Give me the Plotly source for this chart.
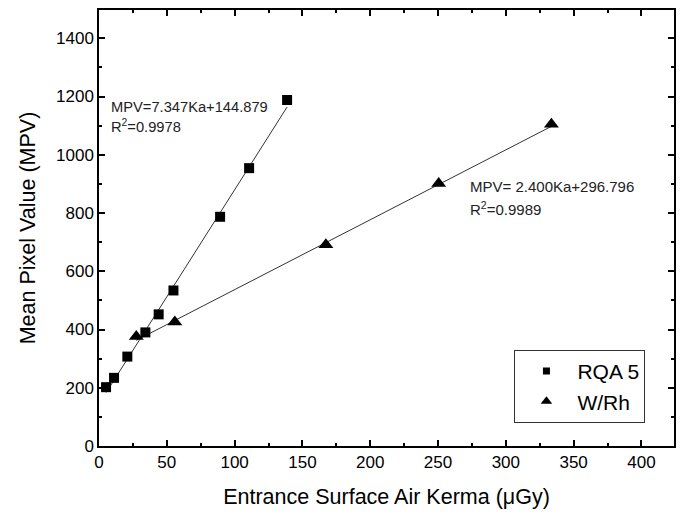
import plotly.graph_objects as go

# RQA 5 data
rqa_x = [5.2, 11.1, 20.9, 34.2, 44.0, 54.9, 89.3, 110.7, 138.7]
rqa_y = [202, 234, 307, 390, 452, 534, 787, 954, 1188]
rqa_slope, rqa_icpt = 7.347, 144.879

# W/Rh data
wrh_x = [27.5, 55.9, 167.3, 250.5, 333.6]
wrh_y = [376, 426, 691, 901, 1105]
wrh_slope, wrh_icpt = 2.400, 296.796

FONT = "Liberation Sans, Arial, sans-serif"
LINE = "#333333"

fig = go.Figure()

def fit_line(xs, m, b):
    xl = [min(xs), max(xs)]
    return xl, [m * v + b for v in xl]

fx, fy = fit_line(rqa_x, rqa_slope, rqa_icpt)
fig.add_trace(go.Scatter(x=fx, y=fy, mode="lines", line=dict(color=LINE, width=1),
                         showlegend=False, hoverinfo="skip"))
fx, fy = fit_line(wrh_x, wrh_slope, wrh_icpt)
fig.add_trace(go.Scatter(x=fx, y=fy, mode="lines", line=dict(color=LINE, width=1),
                         showlegend=False, hoverinfo="skip"))

fig.add_trace(go.Scatter(x=rqa_x, y=rqa_y, mode="markers", name="RQA 5", showlegend=False,
                         marker=dict(symbol="square", size=10, color="black")))
fig.add_trace(go.Scatter(x=wrh_x, y=wrh_y, mode="markers", name="W/Rh", showlegend=False,
                         marker=dict(symbol="triangle-up", size=13, color="black")))

# legend entries (smaller symbols as in the reference legend)
fig.add_trace(go.Scatter(x=[None], y=[None], mode="markers", name="RQA 5",
                         marker=dict(symbol="square", size=7, color="black")))
fig.add_trace(go.Scatter(x=[None], y=[None], mode="markers", name="W/Rh",
                         marker=dict(symbol="triangle-up", size=10, color="black")))

ann_font = dict(family=FONT, size=14.7, color="#222")
fig.add_annotation(x=7.5, y=1165, xref="x", yref="y", xanchor="left", yanchor="middle",
                   text="MPV=7.347Ka+144.879", showarrow=False, font=ann_font)
fig.add_annotation(x=7.5, y=1098, xref="x", yref="y", xanchor="left", yanchor="middle",
                   text="R<sup>2</sup>=0.9978", showarrow=False, font=ann_font)
fig.add_annotation(x=272, y=890, xref="x", yref="y", xanchor="left", yanchor="middle",
                   text="MPV= 2.400Ka+296.796", showarrow=False,
                   font=dict(family=FONT, size=15, color="#222"))
fig.add_annotation(x=272, y=814, xref="x", yref="y", xanchor="left", yanchor="middle",
                   text="R<sup>2</sup>=0.9989", showarrow=False,
                   font=dict(family=FONT, size=15, color="#222"))

axis_common = dict(
    showgrid=False, zeroline=False, showline=True, linecolor="black", linewidth=1.5,
    mirror="ticks", ticks="inside", ticklen=6, tickwidth=1.5, tickcolor="black",
    tickfont=dict(family=FONT, size=17, color="black"),
)

fig.update_xaxes(range=[0, 424], dtick=50, tick0=0,
                 minor=dict(dtick=25, ticks="inside", ticklen=3, tickwidth=1.5, tickcolor="black"),
                 title=dict(text="Entrance Surface Air Kerma (μGy)",
                            font=dict(family=FONT, size=21.5, color="black"), standoff=18),
                 **axis_common)
fig.update_yaxes(range=[0, 1497], dtick=200, tick0=0,
                 minor=dict(dtick=100, ticks="inside", ticklen=3, tickwidth=1.5, tickcolor="black"),
                 title=dict(text="Mean Pixel Value (MPV)",
                            font=dict(family=FONT, size=21.5, color="black"), standoff=14),
                 **axis_common)

fig.update_layout(
    width=686, height=513,
    margin=dict(l=99, r=12, t=8, b=65),
    plot_bgcolor="white", paper_bgcolor="white",
    legend=dict(x=0.7225, y=0.2205, xanchor="left", yanchor="top",
                bordercolor="#333", borderwidth=1, bgcolor="white",
                font=dict(family=FONT, size=21, color="black"),
                itemwidth=52, tracegroupgap=0),
    showlegend=True,
)

fig.write_html("out.html")
